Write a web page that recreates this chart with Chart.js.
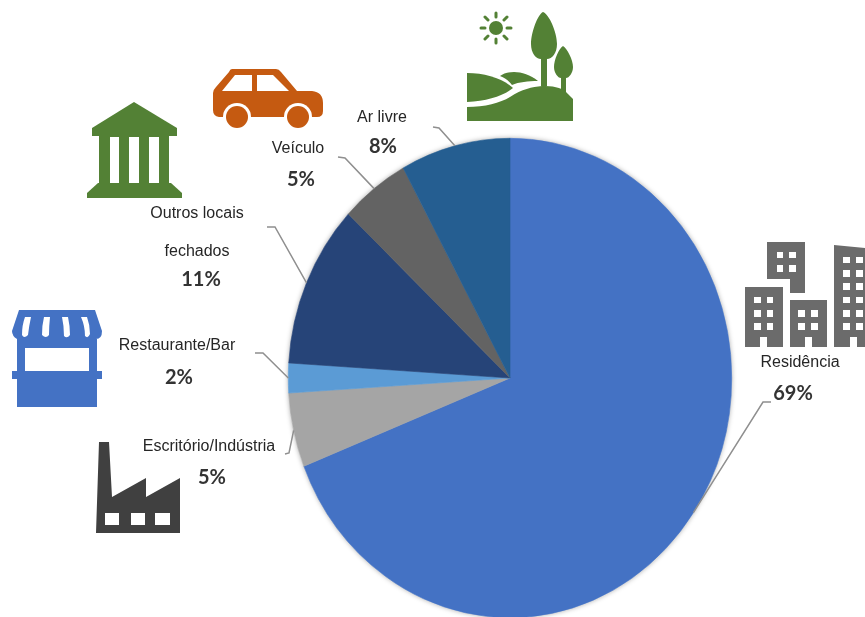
<!DOCTYPE html>
<html lang="pt">
<head>
<meta charset="utf-8">
<title>Locais</title>
<script src="https://cdn.jsdelivr.net/npm/chart.js@4"></script>
<style>
    html, body { margin: 0; padding: 0; background: #ffffff; overflow: hidden; }
    #stage { position: relative; width: 865px; height: 617px; }
    #stage canvas, #stage svg { position: absolute; left: 0; top: 0; }
</style>
</head>
<body>
<div id="stage">
    <canvas id="pieChart" width="865" height="617"></canvas>
    <svg width="865" height="617" viewBox="0 0 865 617" xmlns="http://www.w3.org/2000/svg">
        <!-- bank -->
        <g fill="#538135">
            <path d="M134 102 L177 128 L177 136 L92 136 L92 128 Z"/>
            <rect x="99" y="136" width="70" height="47"/>
            <path d="M98 183 L171 183 L182 193 L182 198 L87 198 L87 193 Z"/>
        </g>
        <g fill="#ffffff">
            <rect x="110" y="137" width="9" height="46"/>
            <rect x="129" y="137" width="10" height="46"/>
            <rect x="149" y="137" width="10" height="46"/>
        </g>
        <!-- car -->
        <path fill="#C55A11" d="M232 69 L276 69 Q279 69 281 72 L297 91 L312 91 Q323 92 323 103 L323 111 Q323 117 317 117 L219 117 Q213 116 213 110 L213 93 Q213 90 216 87 L229 72 Q230 69 232 69 Z"/>
        <path fill="#ffffff" d="M222 91 L235 75 L252 75 L252 91 Z M257 75 L273 75 L289 91 L257 91 Z"/>
        <circle cx="237" cy="117" r="14" fill="#ffffff"/>
        <circle cx="298" cy="117" r="14" fill="#ffffff"/>
        <circle cx="237" cy="117" r="11" fill="#C55A11"/>
        <circle cx="298" cy="117" r="11" fill="#C55A11"/>
        <!-- landscape -->
        <g fill="#538135">
            <circle cx="496" cy="28" r="7"/>
            <path stroke="#538135" stroke-width="3" stroke-linecap="round" d="M496 13 V17 M496 39 V43 M481 28 H485 M507 28 H511 M485 17 L488 20 M504 36 L507 39 M507 17 L504 20 M488 36 L485 39"/>
            <path d="M543 12 C549 14 557 32 557 44 C557 53 552 59 547 59 L547 86 L541 86 L541 59 C536 59 531 53 531 44 C531 32 538 14 543 12 Z"/>
            <path d="M563 46 C567 48 573 60 573 67 C573 73 569 78 566 78 L566 94 L561 94 L561 78 C558 78 554 73 554 67 C554 60 559 48 563 46 Z"/>
            <path d="M467 73 C485 73 502 78 513 88 C503 96 487 101 467 102 Z"/>
            <path d="M500 76 C508 70 525 70 538 81 C528 81 519 82 512 85 C509 81 505 78 500 76 Z"/>
            <path d="M467 107 C485 107 500 103 510 97 C522 89 532 87 542 86 C552 86 561 87 566 92 L573 99 L573 121 L467 121 Z"/>
        </g>
        <!-- store -->
        <path fill="#4472C4" d="M19 310 L95 310 L102 331 Q102 339 96 339 L97 339 L97 371 L102 371 L102 379 L97 379 L97 407 L17 407 L17 379 L12 379 L12 371 L17 371 L17 339 Q12 336 12 331 Z"/>
        <g fill="#ffffff">
            <rect x="25" y="348" width="64" height="23"/>
            <path d="M25 317 L31 317 Q29 326 28 335 Q24 339 22 335 Q22 325 25 317 Z"/>
            <path d="M44 317 L50 317 Q49 326 49 335 Q46 339 42 335 Q42 325 44 317 Z"/>
            <path d="M62 317 L68 317 Q70 326 70 335 Q67 339 64 336 Q64 326 62 317 Z"/>
            <path d="M81 317 L87 317 Q90 325 90 334 Q88 339 85 336 Q85 326 81 317 Z"/>
        </g>
        <!-- factory -->
        <path fill="#404040" d="M99 442 L109 442 L112 497 L146 478 L146 497 L180 478 L180 533 L96 533 Z"/>
        <g fill="#ffffff">
            <rect x="105" y="513" width="14" height="12"/>
            <rect x="131" y="513" width="14" height="12"/>
            <rect x="155" y="513" width="15" height="12"/>
        </g>
        <!-- buildings -->
        <g fill="#6B6B6B">
            <path d="M767 242 L805 242 L805 293 L790 293 L790 279 L767 279 Z"/>
            <rect x="745" y="287" width="38" height="60"/>
            <rect x="790" y="300" width="37" height="47"/>
            <path d="M834 245 L865 248 L865 347 L834 347 Z"/>
        </g>
        <g fill="#ffffff">
            <path d="M777 252 h6 v6 h-6 Z M789 252 h7 v6 h-7 Z M777 265 h6 v7 h-6 Z M789 265 h7 v7 h-7 Z"/>
            <path d="M754 297 h7 v6 h-7 Z M767 297 h6 v6 h-6 Z M754 310 h7 v7 h-7 Z M767 310 h6 v7 h-6 Z M754 323 h7 v7 h-7 Z M767 323 h6 v7 h-6 Z M760 337 h7 v10 h-7 Z"/>
            <path d="M798 310 h7 v7 h-7 Z M811 310 h7 v7 h-7 Z M798 323 h7 v7 h-7 Z M811 323 h7 v7 h-7 Z M805 337 h7 v10 h-7 Z"/>
            <path d="M843 257 h7 v6 h-7 Z M856 257 h7 v6 h-7 Z M843 270 h7 v7 h-7 Z M856 270 h7 v7 h-7 Z M843 283 h7 v7 h-7 Z M856 283 h7 v7 h-7 Z M843 297 h7 v6 h-7 Z M856 297 h7 v6 h-7 Z M843 310 h7 v7 h-7 Z M856 310 h7 v7 h-7 Z M843 323 h7 v7 h-7 Z M856 323 h7 v7 h-7 Z M850 337 h7 v10 h-7 Z"/>
        </g>
    </svg>
</div>
<script>
var categories = ['Residência', 'Escritório/Indústria', 'Restaurante/Bar', 'Outros locais|fechados', 'Veículo', 'Ar livre'];
var shareValues = [69, 5, 2, 11, 5, 8];
var sliceColors = ['#4472C4', '#A5A5A5', '#5B9BD5', '#264478', '#636363', '#255E91'];

// pie is taller than wide, so the arcs get stretched around the centre
var stretchY = 240 / 222;

// label text centres and leader elbows, one row per slice
var labelSpots = [
    { x: 800, y: 363, pctX: 793, pctY: 394, elbow: [[771, 402], [763, 402]] },
    { x: 209, y: 447, pctX: 212, pctY: 478, elbow: [[285, 454], [289, 453]] },
    { x: 177, y: 346, pctX: 179, pctY: 378, elbow: [[255, 353], [263, 353]] },
    { x: 197, y: 214, y2: 252, pctX: 201, pctY: 280, elbow: [[267, 227], [275, 227]] },
    { x: 298, y: 149, pctX: 301, pctY: 180, elbow: [[338, 157], [345, 158]] },
    { x: 382, y: 118, pctX: 383, pctY: 147, elbow: [[433, 127], [439, 128]] }
];

function drawOutline(ctx, arc) {
    ctx.save();
    ctx.shadowColor = 'rgba(0, 0, 0, 0.35)';
    ctx.shadowBlur = 5;
    ctx.fillStyle = '#ffffff';
    ctx.beginPath();
    ctx.ellipse(arc.x, arc.y, arc.outerRadius, arc.outerRadius * stretchY, 0, 0, Math.PI * 2);
    ctx.fill();
    ctx.restore();
}

var stretchedPie = {
    id: 'stretchedPie',
    beforeDatasetsDraw: function(chart) {
        var ctx = chart.ctx;
        var arc = chart.getDatasetMeta(0).data[0];
        drawOutline(ctx, arc);
        ctx.save();
        ctx.translate(arc.x, arc.y);
        ctx.scale(1, stretchY);
        ctx.translate(-arc.x, -arc.y);
    },
    afterDatasetsDraw: function(chart) {
        chart.ctx.restore();
    }
};

var sliceLabels = {
    id: 'sliceLabels',
    afterDraw: function(chart) {
        var ctx = chart.ctx;
        var arcs = chart.getDatasetMeta(0).data;
        ctx.save();
        for (var i = 0; i < arcs.length; i++) {
            var arc = arcs[i];
            var spot = labelSpots[i];
            var mid = (arc.startAngle + arc.endAngle) / 2;

            // leader line runs from the label to the middle of the slice edge
            ctx.strokeStyle = '#8F8F8F';
            ctx.lineWidth = 1.5;
            ctx.beginPath();
            ctx.moveTo(spot.elbow[0][0], spot.elbow[0][1]);
            ctx.lineTo(spot.elbow[1][0], spot.elbow[1][1]);
            ctx.lineTo(arc.x + arc.outerRadius * Math.cos(mid), arc.y + arc.outerRadius * stretchY * Math.sin(mid));
            ctx.stroke();

            var lines = categories[i].split('|');
            ctx.textAlign = 'center';
            ctx.textBaseline = 'middle';
            ctx.fillStyle = '#262626';
            ctx.font = '16px "Liberation Sans"';
            ctx.fillText(lines[0], spot.x, spot.y);
            if (lines[1]) {
                ctx.fillText(lines[1], spot.x, spot.y2);
            }

            ctx.fillStyle = '#333333';
            ctx.font = 'bold 20px Lato';
            ctx.fillText(shareValues[i] + '%', spot.pctX, spot.pctY);
        }
        ctx.restore();
    }
};

var ctx = document.getElementById('pieChart').getContext('2d');
var pieChart = new Chart(ctx, {
    type: 'pie',
    data: {
        labels: categories,
        datasets: [{
            data: shareValues,
            backgroundColor: sliceColors,
            // same colour as the fill, closes the hairline seams between slices
            borderColor: sliceColors,
            borderWidth: 0.6,
            clip: false
        }]
    },
    options: {
        responsive: false,
        animation: false,
        layout: {
            padding: { left: 288, right: 133, top: 156, bottom: 17 }
        },
        plugins: {
            legend: { display: false },
            tooltip: { enabled: false }
        }
    },
    plugins: [stretchedPie, sliceLabels]
});
</script>
</body>
</html>
